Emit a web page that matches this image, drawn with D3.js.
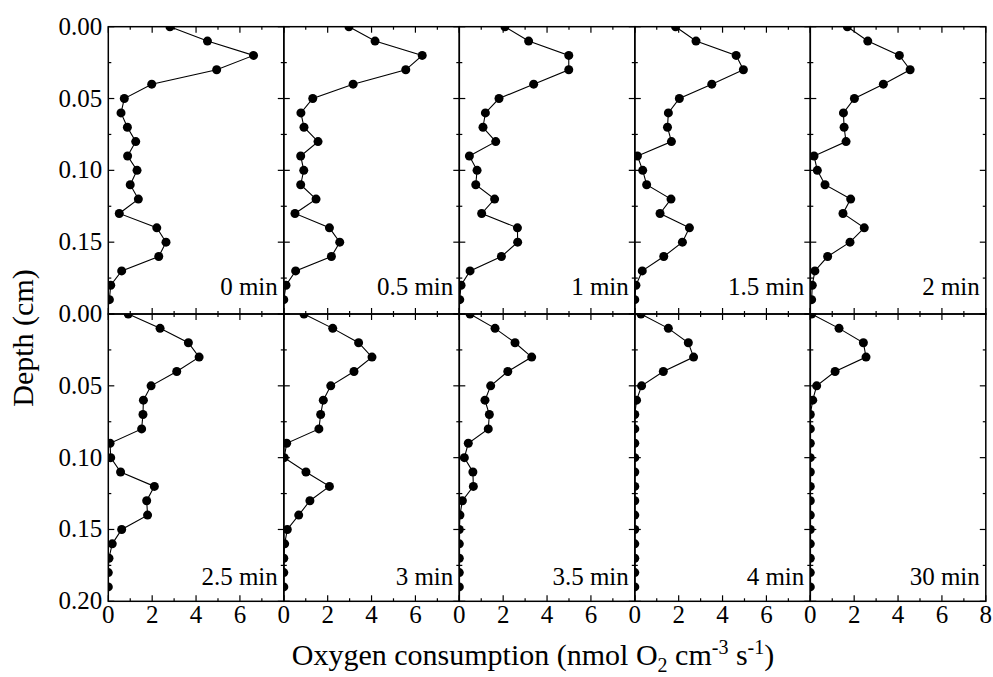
<!DOCTYPE html>
<html>
<head>
<meta charset="utf-8">
<script src="https://cdn.jsdelivr.net/npm/d3@7"></script>
<style>
  body { margin: 0; background: #fff; }
</style>
</head>
<body>
<div id="chart"></div>
<script>
// data: depth (cm) vs O2 consumption rate
var depths = [0.00, 0.01, 0.02, 0.03, 0.04, 0.05, 0.06, 0.07, 0.08, 0.09,
              0.10, 0.11, 0.12, 0.13, 0.14, 0.15, 0.16, 0.17, 0.18, 0.19];

var panelNames = ["0 min", "0.5 min", "1 min", "1.5 min", "2 min",
                  "2.5 min", "3 min", "3.5 min", "4 min", "30 min"];

var rate0   = [2.81, 4.52, 6.62, 4.94, 1.98, 0.73, 0.58, 0.87, 1.25, 0.88, 1.31, 1.00, 1.37, 0.50, 2.21, 2.63, 2.30, 0.61, 0.11, 0.05];
var rate05  = [2.97, 4.16, 6.31, 5.56, 3.16, 1.32, 0.78, 0.92, 1.56, 0.77, 0.91, 0.77, 1.47, 0.51, 2.08, 2.55, 2.17, 0.54, 0.10, 0.00];
var rate1   = [2.08, 3.16, 4.99, 4.99, 3.39, 1.81, 1.19, 1.08, 1.66, 0.46, 0.81, 0.75, 1.61, 1.02, 2.65, 2.66, 1.92, 0.49, 0.08, 0.02];
var rate15  = [1.86, 2.79, 4.62, 4.95, 3.51, 2.03, 1.53, 1.49, 1.67, 0.12, 0.36, 0.54, 1.65, 1.15, 2.49, 2.17, 1.32, 0.34, 0.05, 0.00];
var rate2   = [1.69, 2.62, 4.06, 4.55, 3.33, 2.01, 1.51, 1.54, 1.63, 0.17, 0.32, 0.67, 1.84, 1.49, 2.46, 1.81, 0.79, 0.21, 0.09, 0.06];
var rate25  = [0.91, 2.36, 3.65, 4.14, 3.12, 1.95, 1.60, 1.58, 1.52, 0.08, 0.11, 0.56, 2.10, 1.75, 1.79, 0.61, 0.18, 0.03, 0.00, 0.00];
var rate3   = [0.92, 2.23, 3.41, 4.02, 3.20, 2.14, 1.80, 1.68, 1.60, 0.13, 0.02, 1.01, 2.08, 1.19, 0.68, 0.16, 0.04, 0.00, 0.00, 0.00];
var rate35  = [0.49, 1.63, 2.54, 3.30, 2.21, 1.43, 1.17, 1.37, 1.32, 0.41, 0.23, 0.62, 0.64, 0.14, 0.03, 0.00, 0.00, 0.00, 0.00, 0.00];
var rate4   = [0.28, 1.53, 2.44, 2.68, 1.30, 0.31, 0.08, 0.00, 0.00, 0.00, 0.00, 0.00, 0.00, 0.00, 0.00, 0.00, 0.00, 0.00, 0.00, 0.00];
var rate30  = [0.06, 1.31, 2.42, 2.54, 1.13, 0.29, 0.11, 0.00, 0.00, 0.00, 0.00, 0.00, 0.00, 0.00, 0.00, 0.00, 0.00, 0.00, 0.00, 0.00];

var rates = [rate0, rate05, rate1, rate15, rate2, rate25, rate3, rate35, rate4, rate30];

var xMajor = [0, 2, 4, 6, 8];
var xMinor = [1, 3, 5, 7];
var yMajor = [0, 0.05, 0.10, 0.15, 0.20];
var yMinor = [0.025, 0.075, 0.125, 0.175];

var W = 993, H = 677;
var padL = 108.3, padT = 26.7;
var panelW = 175.5, panelH = 287.3;
var serif = "'Liberation Serif', 'Times New Roman', Times, 'DejaVu Serif', serif";

var svg = d3.select("#chart").append("svg")
    .attr("width", W)
    .attr("height", H)
    .style("font-family", serif)
    .attr("font-family", serif);

var x = d3.scaleLinear().domain([0, 8]).range([0, panelW]);
var y = d3.scaleLinear().domain([0, 0.2]).range([0, panelH]);

var line = d3.line()
    .x(function (d) { return x(d[0]); })
    .y(function (d) { return y(d[1]); });

rates.forEach(function (vals, i) {
  var col = i % 5, row = Math.floor(i / 5);
  var g = svg.append("g")
      .attr("transform", "translate(" + (padL + col * panelW) + "," + (padT + row * panelH) + ")");

  g.append("clipPath").attr("id", "clip" + i)
    .append("rect").attr("width", panelW).attr("height", panelH);

  var pts = vals.map(function (v, j) { return [v, depths[j]]; });
  var plot = g.append("g").attr("clip-path", "url(#clip" + i + ")");

  plot.append("path")
      .datum(pts)
      .attr("d", line)
      .attr("fill", "none")
      .attr("stroke", "#000")
      .attr("stroke-width", 1.1);

  plot.selectAll("circle")
    .data(pts)
    .enter()
    .append("circle")
      .attr("cx", function (d) { return x(d[0]); })
      .attr("cy", function (d) { return y(d[1]); })
      .attr("r", 4.5)
      .attr("fill", "#000");

  // inward ticks, all four sides
  var ticks = g.append("g").attr("stroke", "#000").attr("stroke-width", 1.2);
  function hTicks(vs, len) {
    vs.forEach(function (v) {
      ticks.append("line").attr("x1", x(v)).attr("x2", x(v)).attr("y1", 0).attr("y2", len);
      ticks.append("line").attr("x1", x(v)).attr("x2", x(v)).attr("y1", panelH).attr("y2", panelH - len);
    });
  }
  function vTicks(vs, len) {
    vs.forEach(function (v) {
      ticks.append("line").attr("y1", y(v)).attr("y2", y(v)).attr("x1", 0).attr("x2", len);
      ticks.append("line").attr("y1", y(v)).attr("y2", y(v)).attr("x1", panelW).attr("x2", panelW - len);
    });
  }
  hTicks(xMajor, 6); hTicks(xMinor, 3);
  vTicks(yMajor, 6); vTicks(yMinor, 3);

  g.append("rect")
      .attr("width", panelW)
      .attr("height", panelH)
      .attr("fill", "none")
      .attr("stroke", "#000")
      .attr("stroke-width", 1.5);

  g.append("text")
      .attr("x", panelW - 6)
      .attr("y", panelH - (row == 0 ? 19 : 16))
      .attr("text-anchor", "end")
      .style("font-size", "25px")
      .text(panelNames[i]);

  // x tick labels on the bottom row only
  if (row == 1) {
    var labs = col == 4 ? xMajor : xMajor.slice(0, 4);
    g.selectAll(".xl")
      .data(labs)
      .enter()
      .append("text")
        .attr("x", function (d) { return x(d); })
        .attr("y", panelH + 22)
        .attr("text-anchor", "middle")
        .style("font-size", "25px")
        .text(function (d) { return d; });
  }

  // y tick labels on the first column
  if (col == 0) {
    var ylabs = row == 0 ? yMajor.slice(0, 4) : yMajor;
    g.selectAll(".yl")
      .data(ylabs)
      .enter()
      .append("text")
        .attr("x", -6)
        .attr("y", function (d) { return y(d); })
        .attr("dy", "0.32em")
        .attr("text-anchor", "end")
        .style("font-size", "25px")
        .text(function (d) { return d.toFixed(2); });
  }
});

// axis titles
svg.append("text")
    .attr("transform", "translate(33,338) rotate(-90)")
    .attr("text-anchor", "middle")
    .style("font-size", "30px")
    .text("Depth (cm)");

var xt = svg.append("text")
    .attr("x", 533)
    .attr("y", 665)
    .attr("text-anchor", "middle")
    .style("font-size", "30px");
xt.append("tspan").text("Oxygen consumption (nmol O");
xt.append("tspan").attr("dy", 7).style("font-size", "20px").text("2");
xt.append("tspan").attr("dy", -7).text(" cm");
xt.append("tspan").attr("dy", -11).style("font-size", "20px").text("-3");
xt.append("tspan").attr("dy", 11).text(" s");
xt.append("tspan").attr("dy", -11).style("font-size", "20px").text("-1");
xt.append("tspan").attr("dy", 11).text(")");
</script>
</body>
</html>
